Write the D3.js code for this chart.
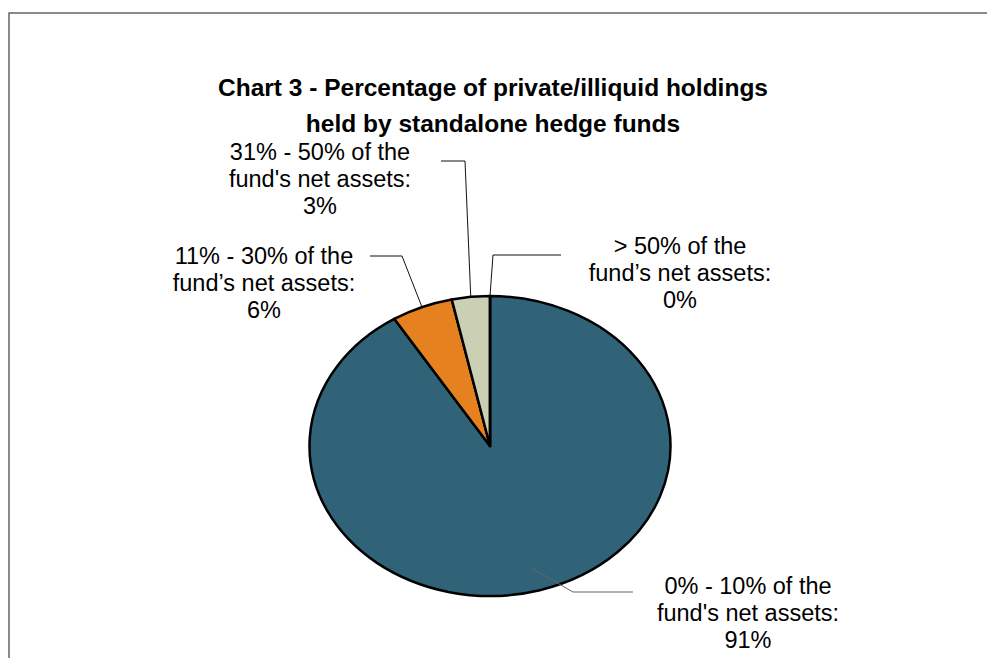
<!DOCTYPE html>
<html>
<head>
<meta charset="utf-8">
<script src="https://cdn.jsdelivr.net/npm/d3@7"></script>
<style>
  body { margin: 0; background: #fff; }
  text { font-family: "Liberation Sans", Arial, sans-serif; fill: #000; }
</style>
</head>
<body>
<svg id="chart" width="987" height="658"></svg>
<script>
// DATA
var categories = [
  ["0% - 10% of the", "fund's net assets:"],
  ["11% - 30% of the", "fund\u2019s net assets:"],
  ["31% - 50% of the", "fund's net assets:"],
  ["> 50% of the", "fund\u2019s net assets:"]
];
var values = [91.1, 5.5, 3.4, 0.0];
var valueLabels = ["91%", "6%", "3%", "0%"];
var colors = ["#306377", "#E5821F", "#CBD0B5", "#8FA5B0"];

// LAYOUT
var width = 987, height = 658;
var cx = 490, cy = 446, rx = 180.5, ry = 150;
var svg = d3.select('#chart');

// label centre x, first baseline, leader-line elbow (label end, bend), start fraction of radius
var labelLayout = [
  { x: 748, y: 594, end: [633, 592], bend: [573, 592], r0: 0.85, stroke: '#666' },
  { x: 264, y: 264, end: [370, 256], bend: [402, 256], r0: 1, stroke: '#111' },
  { x: 320, y: 160, end: [441, 161], bend: [465, 161], r0: 1, stroke: '#111' },
  { x: 680, y: 254, end: [561, 255], bend: [493, 255], r0: 1, stroke: '#111' }
];

// frame
svg.append('rect')
  .attr('x', 9).attr('y', 13)
  .attr('width', 1200).attr('height', 1000)
  .attr('fill', 'none')
  .attr('stroke', '#666')
  .attr('stroke-width', 1.5);

// title
var title = svg.append('text')
  .attr('text-anchor', 'middle')
  .style('font-size', '24.5px')
  .style('font-weight', 'bold');
title.append('tspan').attr('x', 493).attr('y', 96)
  .text('Chart 3 - Percentage of private/illiquid holdings');
title.append('tspan').attr('x', 493).attr('y', 132)
  .text('held by standalone hedge funds');

// PIE
var pie = d3.pie().sort(null).value(function(d) { return d; });
var arcs = pie(values);
var arc = d3.arc().innerRadius(0).outerRadius(rx);

var pieG = svg.append('g')
  .attr('transform', 'translate(' + cx + ',' + cy + ') scale(1,' + (ry / rx) + ')');

pieG.selectAll('path')
  .data(arcs)
  .enter()
  .append('path')
  .attr('d', arc)
  .attr('fill', function(d, i) { return colors[i]; })
  .attr('stroke', '#000')
  .attr('stroke-width', 2.5)
  .attr('stroke-linejoin', 'round')
  .attr('vector-effect', 'non-scaling-stroke');

// leader lines
arcs.forEach(function(d, i) {
  var L = labelLayout[i];
  var a = (d.startAngle + d.endAngle) / 2;
  var px = cx + rx * L.r0 * Math.sin(a);
  var py = cy - ry * L.r0 * Math.cos(a);
  svg.append('polyline')
    .attr('points', [L.end, L.bend, [px, py]].map(function(p) { return p.join(','); }).join(' '))
    .attr('fill', 'none')
    .attr('stroke', L.stroke)
    .attr('stroke-width', 1);
});

// labels
categories.forEach(function(lines, i) {
  var L = labelLayout[i];
  var t = svg.append('text')
    .attr('text-anchor', 'middle')
    .style('font-size', '23.5px');
  lines.concat([valueLabels[i]]).forEach(function(s, k) {
    t.append('tspan').attr('x', L.x).attr('y', L.y + k * 27).text(s);
  });
});
</script>
</body>
</html>
